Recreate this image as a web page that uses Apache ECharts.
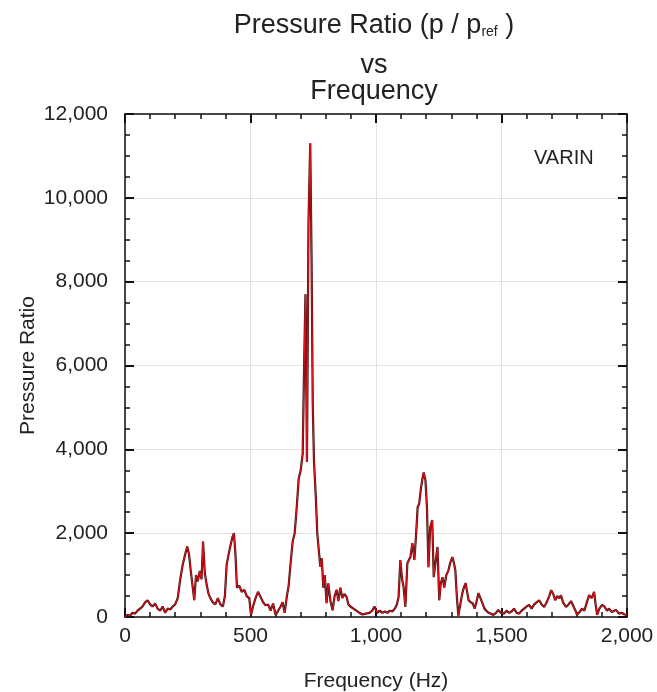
<!DOCTYPE html>
<html>
<head>
<meta charset="utf-8">
<title>Pressure Ratio vs Frequency</title>
<script src="https://cdn.jsdelivr.net/npm/echarts@6/dist/echarts.min.js"></script>
<style>
html,body{margin:0;padding:0;background:#fff;}
#chartContainer{width:657px;height:692px;}
</style>
</head>
<body>
<div id="chartContainer"></div>
<script>
// frequency (Hz) and pressure ratio
var freq = [0,10,20,30,40,50,60,70,80,90,100,110,120,130,140,150,160,170,180,190,
	200,210,220,230,240,248,255,262,270,276,283,290,298,305,311,318,326,333,340,350,
	360,370,380,390,398,405,413,420,428,434,440,446,455,465,475,485,495,502,510,520,
	530,540,550,560,570,580,590,600,610,620,628,636,645,652,660,668,676,684,692,700,
	708,713,719,725,731,738,743,748,753,760,766,772,778,784,790,796,803,810,818,827,
	835,843,850,858,866,874,883,890,898,910,922,934,946,960,974,985,994,1005,1015,1025,
	1035,1045,1055,1065,1075,1083,1090,1097,1104,1110,1117,1125,1131,1137,1145,1153,1160,1166,1172,1178,
	1185,1190,1197,1203,1209,1216,1224,1230,1237,1245,1252,1258,1265,1272,1280,1288,1296,1304,1310,1316,
	1322,1328,1336,1344,1350,1357,1363,1369,1377,1385,1393,1400,1408,1416,1424,1432,1440,1448,1458,1468,
	1478,1487,1497,1510,1520,1530,1540,1550,1560,1570,1580,1590,1600,1610,1620,1630,1640,1650,1660,1670,
	1680,1690,1698,1706,1714,1722,1730,1737,1745,1757,1767,1777,1787,1795,1801,1811,1821,1830,1840,1849,
	1859,1869,1875,1881,1890,1901,1910,1920,1928,1940,1956,1968,1980,1990,2000];
var ratio = [0,50,30,100,80,150,200,250,350,400,300,250,320,200,150,250,100,200,180,250,
	300,450,900,1250,1500,1680,1500,1100,700,400,1000,850,1100,900,1800,1050,750,550,450,350,
	300,450,300,250,500,1250,1500,1700,1900,2000,1500,700,750,600,650,500,450,50,250,450,
	600,480,350,280,300,150,320,50,150,250,350,100,500,750,1300,1800,2000,2600,3300,3500,
	3900,5800,7700,3700,9400,11300,8700,5100,3700,2900,2000,1600,1200,1400,700,1000,330,800,400,160,
	500,650,380,700,450,550,480,300,250,200,150,100,60,80,100,150,250,100,150,100,
	130,100,150,130,200,300,480,1360,900,710,240,1290,1300,1430,1760,1360,2000,2620,2700,3020,
	3300,3450,3260,2620,1190,2140,2310,950,1300,1670,400,800,950,700,1000,1100,1300,1430,1300,1120,
	500,30,300,570,700,810,600,400,350,330,200,350,570,450,330,200,150,100,80,50,
	100,170,100,80,150,100,130,200,100,80,150,200,250,290,200,300,350,400,300,240,
	350,500,640,550,400,500,450,520,350,240,300,380,250,150,50,120,200,150,350,520,
	450,600,300,50,200,290,250,150,200,120,170,80,100,60,50];
var xTicks = [0,2000,500];      // min, max, interval
var yTicks = [0,12000,2000];

var myChar, option;

function fmtNum(v){
	return String(v).replace(/\B(?=(\d{3})+(?!\d))/g, ',');
}

function buildData(){
	var d = [];
	for(var i=0;i<freq.length;i++){
		d.push([freq[i], ratio[i]]);
	}
	return d;
}

function axisX(pos, showLabel){
	return {
		type:'value', position:pos, min:xTicks[0], max:xTicks[1], interval:xTicks[2],
		name: showLabel ? 'Frequency (Hz)' : '',
		nameLocation:'middle', nameGap:54,
		nameTextStyle:{color:'#222', fontSize:21, fontFamily:'Liberation Sans, Arial'},
		axisLine:{show:true, onZero:false, lineStyle:{color:'#111', width:1.5}},
		axisTick:{show:true, inside:true, length:9, lineStyle:{color:'#111', width:2}},
		minorTick:{show:true, splitNumber:5, length:5, lineStyle:{color:'#111', width:1.5}},
		axisLabel:{show:showLabel, margin:9, color:'#222', fontSize:21,
			fontFamily:'Liberation Sans, Arial', formatter:fmtNum},
		splitLine:{show:showLabel, lineStyle:{color:'#e2e2e2', width:1}}
	};
}

function axisY(pos, showLabel){
	return {
		type:'value', position:pos, min:yTicks[0], max:yTicks[1], interval:yTicks[2],
		name: showLabel ? 'Pressure Ratio' : '',
		nameLocation:'middle', nameGap:86, nameMoveOverlap:false,
		nameTextStyle:{color:'#222', fontSize:21, fontFamily:'Liberation Sans, Arial'},
		axisLine:{show:true, onZero:false, lineStyle:{color:'#111', width:1.5}},
		axisTick:{show:true, inside:true, length:9, lineStyle:{color:'#111', width:2}},
		minorTick:{show:true, splitNumber:4, length:5, lineStyle:{color:'#111', width:1.5}},
		axisLabel:{show:showLabel, margin:17, color:'#222', fontSize:21,
			fontFamily:'Liberation Sans, Arial', formatter:fmtNum},
		splitLine:{show:showLabel, lineStyle:{color:'#e2e2e2', width:1}}
	};
}

function loadEcharts(){
	var data = buildData();
	option = {
		animation:false,
		backgroundColor:'#fff',
		title:[{
			text:'Pressure Ratio (p / p{sub|ref} )\n{gap|}\nvs\nFrequency',
			left:369, top:8, textAlign:'center',
			textStyle:{color:'#222', fontSize:27, fontWeight:'normal', lineHeight:26,
				fontFamily:'Liberation Sans, Arial',
				rich:{sub:{fontSize:14, verticalAlign:'bottom', padding:[16,0,0,0], color:'#222'},
					gap:{lineHeight:14, fontSize:4}}}
		},{
			text:'VARIN', left:529, top:143,
			textStyle:{color:'#222', fontSize:20, fontWeight:'normal', fontFamily:'Liberation Sans, Arial'}
		}],
		grid:{left:125, right:30, top:114, bottom:75, containLabel:false, outerBoundsMode:'none'},
		xAxis:[axisX('bottom', true), axisX('top', false)],
		yAxis:[axisY('left', true), axisY('right', false)],
		series:[{
			type:'line', data:data, showSymbol:false, symbol:'none',
			lineStyle:{color:'#4a0c0c', width:2.2}, z:2
		},{
			type:'line', data:data, showSymbol:false, symbol:'none',
			lineStyle:{color:'#e8141e', width:1}, z:3
		}]
	};
	myChar = echarts.init(document.getElementById('chartContainer'), null, {renderer:'canvas'});
	myChar.setOption(option);
}

loadEcharts();
</script>
</body>
</html>
